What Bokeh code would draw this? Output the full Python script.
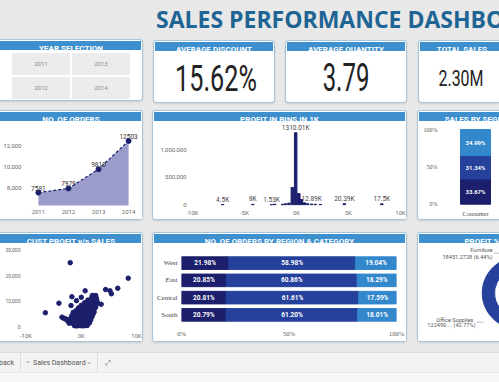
import math
from bokeh.plotting import figure
from bokeh.layouts import column, row
from bokeh.models import (Div, Range1d, FactorRange, FixedTicker, NumeralTickFormatter,
                          CustomJSTickFormatter)
from bokeh.core.properties import value
from bokeh.embed import file_html
from bokeh.resources import INLINE

# ---------------- data ----------------
title_text = "SALES PERFORMANCE DASHBOARD"
year_buttons = ["2011", "2013", "2012", "2014"]
kpi_titles = ["AVERAGE DISCOUNT", "AVERAGE QUANTITY", "TOTAL SALES"]
kpi_values = ["15.62%", "3.79", "2.30M"]

years = [2011, 2012, 2013, 2014]
orders = [7581, 7979, 9810, 12503]

bin_k = [-7.1, -4.2, -2.4, -2.1, -1.35, -1.05, -0.72, -0.4, -0.08, 0.22, 0.46, 0.75, 1.06, 1.45, 1.8, 2.3, 4.6, 8.2]
bin_cnt = [4500, 8000, 1530, 12000, 9000, 18000, 30000, 315000, 1310010, 204000, 98000, 37000, 20000, 12890, 9000, 6000, 20390, 17500]
bin_lbl = ["4.5K", "8K", "1.53K", "", "", "", "", "", "1310.01K", "", "", "", "", "12.89K", "", "", "20.39K", "17.5K"]

segments = ["Consumer"]
seg_share = [33.67, 31.34, 34.99]          # bottom -> top

regions = ["West", "East", "Central", "South"]
cat_a = [21.98, 20.85, 20.81, 20.79]
cat_b = [58.98, 60.86, 61.61, 61.20]
cat_c = [19.04, 18.29, 17.59, 18.01]

profit_cats = ["Technology", "Office Supplies", "Furniture"]
profit_share = [50.79, 42.77, 6.44]
profit_value_lbl = ["145454.95", "122490....", "18451.2728"]

cust_profit_k = [
    -2.0, 8.5, -6.5, -4.05, -1.7, 0.7, 4.4, 5.2, 5.45, 6.6, 3.6, -3.5, -2.9, -2.3, -1.85, -1.45, -0.87, 0.0, 2.0, 2.6,
    -3.2, -2.7, -2.4, -2.2,
    -1.2, -0.8, -0.4, 0.0, 0.4, 0.8, 1.1,
    -1.6, -1.2, -0.8, -0.4, 0.0, 0.4, 0.8, 1.2, 1.5,
    -1.8, -1.4, -1.0, -0.6, -0.2, 0.2, 0.6, 1.0, 1.4, 1.7,
    -1.9, -1.5, -1.1, -0.7, -0.3, 0.1, 0.5, 0.9, 1.3, 1.7, 1.9,
    -1.7, -1.3, -0.9, -0.5, -0.1, 0.3, 0.7, 1.1, 1.5, 1.9, 2.1,
    -1.3, -0.9, -0.5, -0.1, 0.3, 0.7, 1.1, 1.5, 1.9, 2.3,
    -0.9, -0.5, -0.1, 0.3, 0.7, 1.1, 1.5, 1.9, 2.3,
    -0.5, -0.1, 0.3, 0.7, 1.1, 1.5, 1.9, 2.3, 2.6,
    0.0, 0.4, 0.8, 1.2, 1.6, 2.0, 2.4, 2.7,
    0.6, 1.0, 1.4, 1.8, 2.2, 2.6, 2.9,
    1.2, 1.6, 2.0, 2.4, 2.8,
    1.9, 2.3, 2.7]
cust_sales = [
    25000, 19000, 5600, 9300, 11800, 14100, 14600, 14100, 12950, 15100, 8900, 3900, 3250, 2850, 8400, 5800, 10300, 11600, 12300, 12300,
    3500, 3000, 2300, 1550,
    500, 400, 600, 500, 450, 600, 700,
    1500, 1400, 1600, 1500, 1450, 1550, 1500, 1650, 1700,
    2500, 2400, 2600, 2500, 2450, 2550, 2500, 2650, 2700, 2800,
    3500, 3400, 3600, 3500, 3450, 3550, 3500, 3650, 3700, 3800, 3900,
    4500, 4400, 4600, 4500, 4450, 4550, 4500, 4650, 4700, 4800, 4900,
    5500, 5400, 5600, 5500, 5450, 5550, 5500, 5650, 5700, 5800,
    6500, 6400, 6600, 6500, 6450, 6550, 6500, 6650, 6700,
    7500, 7400, 7600, 7500, 7450, 7550, 7500, 7650, 7700,
    8500, 8400, 8600, 8500, 8450, 8550, 8500, 8650,
    9500, 9400, 9600, 9500, 9450, 9550, 9600,
    10500, 10400, 10600, 10500, 10600,
    11500, 11600, 11400]

# ---------------- style ----------------
PAGE_W, PAGE_H = 499, 382
BG = "#e8e8e8"
HDR = "#3d8fcd"
NAVY = "#1c1f6b"
MID = "#25419c"
LIGHT = "#3388cc"
BORDER = "#a6c5da"
TICK = "#6b6b6b"
SANS = "Roboto"
SERIF = "Liberation Serif"


def base_fig(w, h, xr, yr, mb):
    p = figure(width=w, height=h, x_range=xr, y_range=yr, output_backend="svg",
               toolbar_location=None, min_border_left=mb[0], min_border_right=mb[1],
               min_border_top=mb[2], min_border_bottom=mb[3])
    p.background_fill_color = "white"
    p.border_fill_color = "white"
    p.outline_line_color = None
    p.grid.visible = False
    return p


def style_axis(ax, font=SANS, size="6px", standoff=2, color=TICK):
    ax.axis_line_color = None
    ax.major_tick_line_color = None
    ax.minor_tick_line_color = None
    ax.major_tick_out = 0
    ax.major_tick_in = 0
    ax.minor_tick_out = 0
    ax.major_label_text_font = font
    ax.major_label_text_font_size = size
    ax.major_label_text_color = color
    ax.major_label_standoff = standoff


def card_styles(cut):
    sh = [f"inset 0 1px 0 0 {BORDER}", f"inset 0 -1px 0 0 {BORDER}"]
    if cut != "left":
        sh.append(f"inset 1px 0 0 0 {BORDER}")
    if cut != "right":
        sh.append(f"inset -1px 0 0 0 {BORDER}")
    sh.append("0 1px 2px rgba(0,0,0,0.12)")
    radius = {"left": "0 4px 4px 0", "right": "4px 0 0 4px", None: "4px"}[cut]
    return {"background-color": "white", "box-shadow": ", ".join(sh), "border-radius": radius}


def make_card(w, h, title, body_fn, cut=None, hdr_full=None, margin=(0, 0, 0, 0)):
    lm = 0 if cut == "left" else 2
    rm = 0 if cut == "right" else 2
    hw = w - lm - rm
    fw = hdr_full if hdr_full else hw
    hdr_html = (f'<div style="position:relative;width:{hw}px;height:9px;overflow:hidden;">'
                f'<div style="position:absolute;left:0;top:0;width:{fw}px;text-align:center;'
                f'font-family:{SANS};font-weight:bold;font-size:8px;line-height:9px;color:#ffffff;'
                f'white-space:nowrap;">{title}</div></div>')
    hdr = Div(text=hdr_html, width=hw, height=9, margin=(2, rm, 0, lm),
              styles={"background-color": HDR})
    bl = 0 if cut == "left" else 1
    br = 0 if cut == "right" else 1
    bw = w - bl - br
    bh = h - 14
    body = body_fn(bw, bh)
    body.margin = (2, br, 1, bl)
    return column([hdr, body], width=w, height=h, margin=margin, spacing=0,
                  styles=card_styles(cut))


def kpi_body(text, fs, sx, top, cx):
    def fn(w, h):
        html = (f'<div style="position:relative;width:{w}px;height:{h}px;overflow:hidden;">'
                f'<div style="position:absolute;left:{cx - 100}px;top:{top}px;width:200px;'
                f'text-align:center;font-family:{SANS};font-size:{fs}px;line-height:{fs}px;'
                f'color:#222222;white-space:nowrap;transform:scaleX({sx});'
                f'transform-origin:50% 50%;">{text}</div></div>')
        return Div(text=html, width=w, height=h)
    return fn


def year_body(w, h):
    pos = [(12, 1), (72, 1), (12, 25), (72, 25)]
    cells = "".join(
        f'<div style="position:absolute;left:{x}px;top:{y}px;width:58px;height:22px;'
        f'background:#ececec;color:#8a8a8a;font-family:{SANS};font-size:6px;line-height:22px;'
        f'text-align:center;">{t}</div>' for t, (x, y) in zip(year_buttons, pos))
    html = f'<div style="position:relative;width:{w}px;height:{h}px;">{cells}</div>'
    return Div(text=html, width=w, height=h)


# ---------------- charts ----------------
def orders_fig(w, h):
    p = base_fig(w, h, Range1d(2010.505, 2014.396), Range1d(6352, 13686), (22, 2, 5, 14))
    p.varea(x=years, y1=0, y2=orders, fill_color="#9b9cc9", fill_alpha=1)
    p.line(years, orders, line_color=NAVY, line_width=1.2, line_dash="3 2")
    p.scatter(years, orders, size=5, color=NAVY)
    p.text(years, orders, text=[str(v) for v in orders], text_align="center",
           text_baseline="bottom", y_offset=-2, text_font=value(SANS),
           text_font_size="6.5px", text_color="#333333")
    p.xaxis.ticker = FixedTicker(ticks=years)
    p.xaxis.major_label_overrides = {y: str(y) for y in years}
    p.yaxis.ticker = FixedTicker(ticks=[8000, 10000, 12000])
    p.yaxis.formatter = NumeralTickFormatter(format="0,0")
    style_axis(p.xaxis[0], standoff=4)
    style_axis(p.yaxis[0], standoff=2)
    return p


def bins_fig(w, h):
    p = base_fig(w, h, Range1d(-10.385, 10.19), Range1d(-12700, 1460000), (35, 4, 1, 14))
    p.vbar(x=bin_k, top=bin_cnt, width=0.24, color=NAVY)
    p.text(bin_k, bin_cnt, text=bin_lbl, text_align="center", text_baseline="bottom",
           y_offset=-1, text_font=value(SANS), text_font_size="6.5px", text_color="#444444")
    p.xaxis.ticker = FixedTicker(ticks=[-10, -5, 0, 5, 10])
    p.xaxis.formatter = CustomJSTickFormatter(code="return tick + 'K'")
    p.yaxis.ticker = FixedTicker(ticks=[0, 500000, 1000000])
    p.yaxis.formatter = NumeralTickFormatter(format="0,0")
    style_axis(p.xaxis[0], standoff=3)
    style_axis(p.yaxis[0], standoff=2)
    return p


def segment_fig(w, h):
    left_b, top_b, bot_b = 22, 4, 14
    p = figure(frame_width=w - left_b, frame_height=h - top_b - bot_b,
               x_range=Range1d(-0.7, 0.48), y_range=Range1d(-1.74, 102.7),
               output_backend="svg", toolbar_location=None, min_border_left=left_b,
               min_border_right=0, min_border_top=top_b, min_border_bottom=bot_b)
    p.background_fill_color = "white"
    p.border_fill_color = "white"
    p.outline_line_color = None
    p.grid.visible = False
    xs = [segments.index("Consumer")] * len(seg_share)
    bottoms, tops, acc = [], [], 0.0
    for v in seg_share:
        bottoms.append(acc)
        acc += v
        tops.append(acc)
    p.vbar(x=xs, bottom=bottoms, top=tops, width=0.6, color=[NAVY, MID, LIGHT])
    p.text(xs, [(b + t) / 2 for b, t in zip(bottoms, tops)],
           text=[f"{v:.2f}%" for v in seg_share], text_align="center", text_baseline="middle",
           text_font=value(SANS), text_font_size="6px", text_font_style="bold",
           text_color="white")
    p.xaxis.ticker = FixedTicker(ticks=[0])
    p.xaxis.major_label_overrides = {0: segments[0]}
    p.yaxis.ticker = FixedTicker(ticks=[0, 50, 100])
    p.yaxis.formatter = CustomJSTickFormatter(code="return tick + '%'")
    style_axis(p.xaxis[0], font=SERIF, size="6.5px", standoff=4, color="#555555")
    style_axis(p.yaxis[0], font=SERIF, size="6px", standoff=3, color="#555555")
    return p


def scatter_fig(w, h):
    p = base_fig(w, h, Range1d(-10.64, 10.9), Range1d(-504, 30504), (22, 1, 3, 13))
    p.scatter(cust_profit_k, cust_sales, size=4.5, color=NAVY)
    p.xaxis.ticker = FixedTicker(ticks=[-10, 0, 10])
    p.xaxis.formatter = CustomJSTickFormatter(code="return tick + 'K'")
    p.yaxis.ticker = FixedTicker(ticks=[0, 10000, 20000, 30000])
    p.yaxis.formatter = NumeralTickFormatter(format="0,0")
    style_axis(p.xaxis[0], standoff=3)
    style_axis(p.yaxis[0], size="5px", standoff=2)
    return p


def region_fig(w, h):
    p = base_fig(w, h, Range1d(0, 100), FactorRange(factors=regions[::-1]), (28, 10, 9, 18))
    left = [0.0] * len(regions)
    for vals, col in ((cat_a, NAVY), (cat_b, MID), (cat_c, LIGHT)):
        right = [l + v for l, v in zip(left, vals)]
        p.hbar(y=regions, left=left, right=right, height=0.73, color=col)
        p.text([(l + r) / 2 for l, r in zip(left, right)], regions,
               text=[f"{v:.2f}%" for v in vals], text_align="center", text_baseline="middle",
               text_font=value(SANS), text_font_size="6.5px", text_font_style="bold",
               text_color="white")
        left = right
    p.xaxis.ticker = FixedTicker(ticks=[0, 50, 100])
    p.xaxis.formatter = CustomJSTickFormatter(code="return tick + '%'")
    style_axis(p.xaxis[0], font=SERIF, size="6.5px", standoff=6, color="#555555")
    style_axis(p.yaxis[0], font=SERIF, size="7px", standoff=4, color="#444444")
    return p


def donut_fig(w, h):
    p = base_fig(w, h, Range1d(0, w), Range1d(0, h), (0, 0, 0, 0))
    p.axis.visible = False
    cx, cy = 99.5, 48.5
    starts, ends, acc = [], [], 0.0
    for v in profit_share:
        starts.append(math.pi / 2 - 2 * math.pi * acc / 100)
        acc += v
        ends.append(math.pi / 2 - 2 * math.pi * acc / 100)
    p.annular_wedge(x=cx, y=cy, inner_radius=23.5, outer_radius=35.8, start_angle=starts,
                    end_angle=ends, direction="clock", color=[LIGHT, MID, NAVY])
    fur = profit_cats.index("Furniture")
    off = profit_cats.index("Office Supplies")
    fx, fy = [74, 74], [91.7, 85.0]
    ox, oy = [55, 57], [22.0, 16.7]
    p.text(fx, fy, text=[profit_cats[fur], f"{profit_value_lbl[fur]} ({profit_share[fur]:.2f}%)"],
           text_align="right", text_baseline="middle", text_font=value(SANS),
           text_font_size="5.6px", text_color="#555555")
    p.text(ox, oy, text=[profit_cats[off], f"{profit_value_lbl[off]} ({profit_share[off]:.2f}%)"],
           text_align="right", text_baseline="middle", text_font=value(SANS),
           text_font_size="5.6px", text_color="#555555")
    p.segment(x0=[fx[1] + 1, ox[1] + 1], y0=[(fy[0] + fy[1]) / 2, (oy[0] + oy[1]) / 2],
              x1=[w, ox[1] + 8], y1=[(fy[0] + fy[1]) / 2, (oy[0] + oy[1]) / 2],
              line_color="#aaaaaa", line_width=0.8)
    return p


# ---------------- layout ----------------
title_html = (f'<div style="position:relative;width:{PAGE_W}px;height:39px;overflow:hidden;">'
              f'<div style="position:absolute;left:156px;top:8px;white-space:nowrap;'
              f'font-family:\'Open Sans\';font-weight:bold;font-size:23px;line-height:23px;'
              f'color:#1e6494;">{title_text}</div></div>')
title_div = Div(text=title_html, width=PAGE_W, height=39, margin=(0, 0, 0, 0))

row1 = row([
    make_card(143, 62, "YEAR SELECTION", year_body, cut="left", hdr_full=142, margin=(0, 0, 0, 0)),
    make_card(122, 63, kpi_titles[0], kpi_body(kpi_values[0], 36, 0.70, 8, 62), margin=(1, 0, 0, 10)),
    make_card(122, 63, kpi_titles[1], kpi_body(kpi_values[1], 38, 0.63, 6, 60), margin=(1, 0, 0, 10)),
    make_card(81, 63, kpi_titles[2], kpi_body(kpi_values[2], 22.5, 0.71, 14, 42), cut="right",
              hdr_full=84, margin=(1, 0, 0, 11)),
], spacing=0)

row2 = row([
    make_card(143, 110, "NO. OF ORDERS", orders_fig, cut="left", hdr_full=142, margin=(7, 0, 0, 0)),
    make_card(255, 110, "PROFIT IN BINS IN 1K", bins_fig, margin=(7, 0, 0, 9)),
    make_card(82, 110, "SALES BY SEGMENT", segment_fig, cut="right", hdr_full=126, margin=(7, 0, 0, 10)),
], spacing=0)

row3 = row([
    make_card(143, 110, "CUST PROFIT v/s SALES", scatter_fig, cut="left", hdr_full=142, margin=(12, 0, 0, 0)),
    make_card(255, 110, "NO. OF ORDERS BY REGION &amp; CATEGORY", region_fig, margin=(12, 0, 0, 9)),
    make_card(82, 110, "PROFIT %", donut_fig, cut="right", hdr_full=126, margin=(12, 0, 0, 10)),
], spacing=0)

bottom_html = (
    f'<div style="position:relative;width:{PAGE_W}px;height:40px;overflow:hidden;font-family:{SANS};">'
    f'<div style="position:absolute;left:0;top:10px;width:{PAGE_W}px;height:20px;background:#f3f3f3;'
    'border-top:1px solid #dcdcdc;"></div>'
    f'<div style="position:absolute;left:0;top:31px;width:{PAGE_W}px;height:9px;background:#f7f7f7;"></div>'
    '<div style="position:absolute;left:-1px;top:16px;font-size:7px;color:#555555;">back</div>'
    '<div style="position:absolute;left:20px;top:11px;width:1px;height:19px;background:#dddddd;"></div>'
    '<div style="position:absolute;left:26px;top:16px;font-size:6px;color:#999999;">&#8801;</div>'
    '<div style="position:absolute;left:33px;top:16px;font-size:7px;color:#555555;">Sales Dashboard</div>'
    '<div style="position:absolute;left:86px;top:15px;font-size:7px;color:#888888;">&#8964;</div>'
    '<div style="position:absolute;left:97px;top:11px;width:1px;height:19px;background:#dddddd;"></div>'
    '<div style="position:absolute;left:105px;top:16px;font-size:7px;color:#666666;">&#10530;</div>'
    '</div>')
bottom_div = Div(text=bottom_html, width=PAGE_W, height=40, margin=(0, 0, 0, 0))

root = column([title_div, row1, row2, row3, bottom_div], spacing=0, width=PAGE_W, height=PAGE_H,
              styles={"background-color": BG})

open("out.html", "w").write(file_html(root, INLINE))
